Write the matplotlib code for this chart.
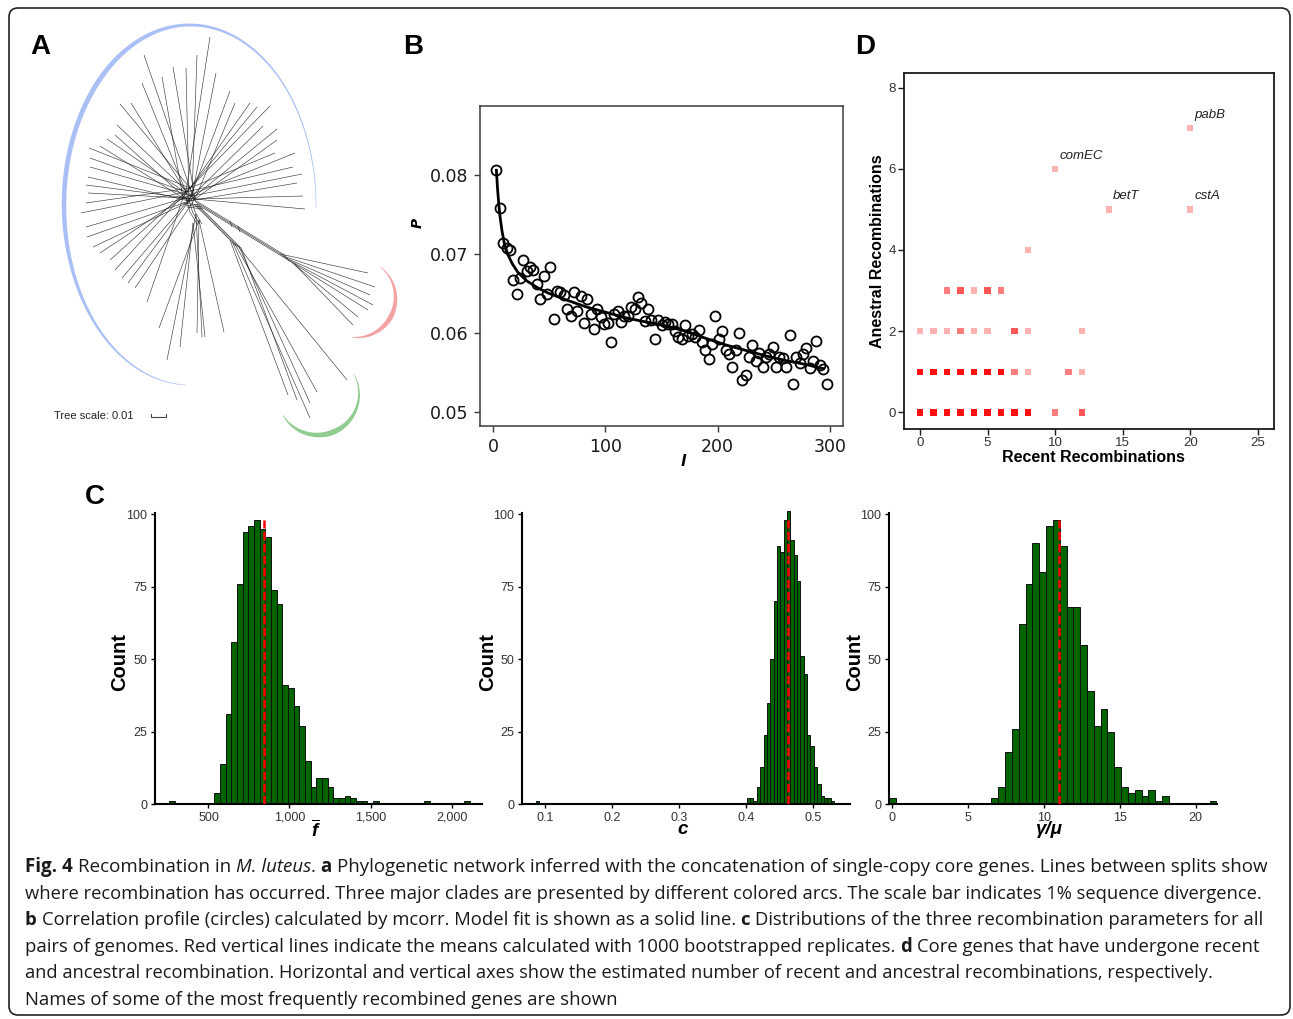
import matplotlib
matplotlib.use('Agg')
import matplotlib.pyplot as plt
import numpy as np
from matplotlib.patches import FancyBboxPatch, Polygon

plt.rcParams['font.family'] = ['Liberation Sans', 'DejaVu Sans']
plt.rcParams['mathtext.fontset'] = 'custom'
plt.rcParams['mathtext.it'] = 'Liberation Sans:italic:bold'
plt.rcParams['mathtext.rm'] = 'Liberation Sans:bold'

# ---------------- DATA ----------------
# Panel A: network tips (layout coordinates)
blue_tip_x = [210, 197, 186, 173, 162, 144, 142, 216, 230, 235, 250, 257, 270, 263, 277, 277, 295, 275, 293, 302, 297, 303, 305,
              120, 131, 117, 115, 107, 100, 89, 90, 90, 88, 86, 88, 86, 81, 86, 87, 93, 100, 110, 115, 122, 128, 135, 147, 159, 167,
              180, 197, 202, 205, 224]
blue_tip_y = [37, 55, 68, 67, 77, 55, 83, 73, 91, 103, 103, 107, 106, 126, 129, 140, 153, 153, 167, 174, 183, 196, 209,
              104, 103, 125, 135, 139, 146, 148, 158, 167, 177, 185, 193, 203, 213, 227, 237, 247, 253, 260, 270, 278, 283, 288, 302, 328, 360,
              347, 333, 337, 337, 332]
red_tip_x = [368, 375, 370, 373, 368, 358, 353]
red_tip_y = [273, 287, 295, 305, 310, 317, 325]
green_tip_x = [288, 310, 317, 347, 310, 297]
green_tip_y = [395, 418, 392, 380, 403, 400]
hub_x = [186, 192, 189, 195, 183, 190]
hub_y = [192, 196, 201, 199, 198, 188]

# Panel B: correlation profile
B_l = [3, 6, 9, 12, 15, 18, 21, 24, 27, 30, 33, 36, 39, 42, 45, 48, 51, 54, 57, 60,
       63, 66, 69, 72, 75, 78, 81, 84, 87, 90, 93, 96, 99, 102, 105, 108, 111, 114, 117, 120,
       123, 126, 129, 132, 135, 138, 141, 144, 147, 150, 153, 156, 159, 162, 165, 168, 171, 174, 177, 180,
       183, 186, 189, 192, 195, 198, 201, 204, 207, 210, 213, 216, 219, 222, 225, 228, 231, 234, 237, 240,
       243, 246, 249, 252, 255, 258, 261, 264, 267, 270, 273, 276, 279, 282, 285, 288, 291, 294, 297]
B_P = [0.0806, 0.0758, 0.0714, 0.0707, 0.0705, 0.0667, 0.0649, 0.0669, 0.0692, 0.0678,
       0.0683, 0.0680, 0.0662, 0.0643, 0.0672, 0.0649, 0.0684, 0.0618, 0.0653, 0.0652,
       0.0648, 0.0631, 0.0621, 0.0652, 0.0628, 0.0647, 0.0613, 0.0643, 0.0624, 0.0605,
       0.0631, 0.0620, 0.0611, 0.0613, 0.0589, 0.0624, 0.0628, 0.0614, 0.0622, 0.0622,
       0.0633, 0.0631, 0.0646, 0.0638, 0.0615, 0.0631, 0.0617, 0.0593, 0.0616, 0.0610,
       0.0614, 0.0612, 0.0612, 0.0602, 0.0595, 0.0592, 0.0610, 0.0596, 0.0599, 0.0595,
       0.0604, 0.0589, 0.0579, 0.0567, 0.0586, 0.0621, 0.0593, 0.0602, 0.0579, 0.0574,
       0.0557, 0.0578, 0.0600, 0.0541, 0.0547, 0.0569, 0.0585, 0.0565, 0.0575, 0.0557,
       0.0570, 0.0574, 0.0582, 0.0557, 0.0570, 0.0568, 0.0557, 0.0598, 0.0535, 0.0569,
       0.0562, 0.0573, 0.0581, 0.0556, 0.0565, 0.0590, 0.0559, 0.0555, 0.0535]
fit_l = [3, 4, 5, 6, 8, 10, 13, 17, 22, 30, 40, 50, 65, 83, 101, 119, 136, 154, 172, 190, 207, 225, 243, 261, 279, 294]
fit_P = [0.0806, 0.0783, 0.0765, 0.0750, 0.0729, 0.0714, 0.0700, 0.0688, 0.0677, 0.0666, 0.0657, 0.0650, 0.0642,
         0.0633, 0.0626, 0.0619, 0.0614, 0.0609, 0.0602, 0.0593, 0.0585, 0.0578, 0.0571, 0.0565, 0.0560, 0.0555]
B_xticks = [0, 100, 200, 300]
B_yticks = [0.05, 0.06, 0.07, 0.08]

# Panel C: histograms (bin index, count)
C1_start, C1_width = 536, 35
C1_idx = [-8] + list(range(0, 29)) + [37, 44]
C1_cnt = [1, 4, 14, 31, 56, 76, 94, 96, 98, 95, 92, 74, 69, 41, 40, 34, 27, 15, 6, 9, 9, 6, 2, 2, 3, 2, 1, 1, 0, 1, 1, 1]
C1_mean = 844
C1_ticks = [500, 1000, 1500, 2000]
C1_labels = ['500', '1,000', '1,500', '2,000']

C2_start, C2_width = 0.401, 0.005
C2_idx = [-63] + list(range(0, 26))
C2_cnt = [1, 2, 2, 1, 6, 13, 24, 35, 50, 70, 89, 87, 98, 101, 91, 86, 77, 51, 45, 24, 20, 13, 7, 3, 2, 2, 1]
C2_mean = 0.463
C2_ticks = [0.1, 0.2, 0.3, 0.4, 0.5]
C2_labels = ['0.1', '0.2', '0.3', '0.4', '0.5']

C3_start, C3_width = -0.22, 0.45
C3_idx = [0] + list(range(15, 41)) + [47]
C3_cnt = [2, 2, 6, 18, 26, 62, 76, 90, 80, 96, 98, 89, 68, 68, 55, 39, 27, 33, 25, 13, 6, 4, 5, 3, 5, 1, 3, 1]
C3_mean = 10.96
C3_ticks = [0, 5, 10, 15, 20]
C3_labels = ['0', '5', '10', '15', '20']
C_yticks = [0, 25, 50, 75, 100]

# Panel D: recent vs ancestral recombinations (x, y, number of genes)
D_x = [0, 1, 2, 3, 4, 5, 6, 7, 8, 10, 12,
       0, 1, 2, 3, 4, 5, 6, 7, 8, 11, 12,
       0, 1, 2, 3, 4, 5, 7, 8, 12,
       2, 3, 4, 5, 6,
       8, 14, 20, 10, 20]
D_y = [0] * 11 + [1] * 11 + [2] * 9 + [3] * 5 + [4, 5, 5, 6, 7]
D_n = [8, 8, 8, 8, 8, 8, 8, 8, 8, 2, 3,
       8, 8, 8, 8, 8, 8, 8, 2, 1, 2, 1,
       1, 1, 1, 2, 1, 1, 3, 1, 1,
       2, 3, 1, 3, 2,
       1, 1, 1, 1, 1]
D_gene_names = ['pabB', 'comEC', 'betT', 'cstA']
D_gene_x = [20, 10, 14, 20]
D_gene_y = [7, 6, 5, 5]

caption_lines = [
    [("Fig. 4", 'b'), (" Recombination in ", 'n'), ("M. luteus", 'i'), (". ", 'n'), ("a", 'b'),
     (" Phylogenetic network inferred with the concatenation of single-copy core genes. Lines between splits show", 'n')],
    [("where recombination has occurred. Three major clades are presented by different colored arcs. The scale bar indicates 1% sequence divergence.", 'n')],
    [("b", 'b'), (" Correlation profile (circles) calculated by mcorr. Model fit is shown as a solid line. ", 'n'), ("c", 'b'),
     (" Distributions of the three recombination parameters for all", 'n')],
    [("pairs of genomes. Red vertical lines indicate the means calculated with 1000 bootstrapped replicates. ", 'n'), ("d", 'b'),
     (" Core genes that have undergone recent", 'n')],
    [("and ancestral recombination. Horizontal and vertical axes show the estimated number of recent and ancestral recombinations, respectively.", 'n')],
    [("Names of some of the most frequently recombined genes are shown", 'n')],
]
caption_right = [1272, 1267, 1257, 1262, 1217, None]
caption_base = [872, 899, 925, 952, 978, 1005]

# ---------------- FIGURE ----------------
W, H = 1293, 1019
fig = plt.figure(figsize=(W / 100, H / 100), dpi=100)


def px_axes(l, t, r, b):
    a = fig.add_axes([l / W, 1 - b / H, (r - l) / W, (b - t) / H])
    a.patch.set_visible(False)
    return a


bg = fig.add_axes([0, 0, 1, 1])
bg.set_xlim(0, W)
bg.set_ylim(H, 0)
bg.axis('off')

bg.add_patch(FancyBboxPatch((9, 8), 1281, 1007, boxstyle='round,pad=0,rounding_size=9',
                            fill=False, ec='#222222', lw=1.2))

# ---- panel letters
for s, x, y in [('A', 40, 47), ('B', 413, 47), ('D', 865, 47), ('C', 95, 497)]:
    bg.text(x, y, s, fontsize=20, fontweight='bold', ha='center', va='center')

# ---- Panel A network
LC = dict(color='#1a1a1a', lw=0.45, alpha=0.85, solid_capstyle='butt')
lower_hubs = [(196, 214), (193, 223), (199, 220)]
for i, (tx, ty) in enumerate(zip(blue_tip_x, blue_tip_y)):
    if ty > 300 and 150 < tx < 230:
        hx, hy = lower_hubs[i % 3]
    else:
        hx, hy = hub_x[i % len(hub_x)], hub_y[i % len(hub_y)]
    bg.plot([hx, tx], [hy, ty], **LC)
# reticulate mesh at centre
for i in range(len(hub_x)):
    for j in range(i + 1, len(hub_x)):
        if (i + j) % 2 == 0:
            bg.plot([hub_x[i], hub_x[j]], [hub_y[i], hub_y[j]], **LC)
for k in range(3):
    bg.plot([186 + 2.5 * k, 190 + 2.5 * k, 197 + 2.5 * k], [198, 212, 224], **LC)
    bg.plot([183 + 2 * k, 199 + 2 * k], [203 + 2 * k, 205 + 2 * k], **LC)
# red clade
for k in range(3):
    bg.plot([193 + 2.0 * k, 286 + 2.0 * k], [199 + 2.6 * k, 256 + 2.6 * k], **LC)
for k in range(2):
    bg.plot([230 + 8 * k, 232 + 8 * k], [221 + 5 * k, 227 + 5 * k], **LC)
for j, (tx, ty) in enumerate(zip(red_tip_x, red_tip_y)):
    bg.plot([280 + 2.5 * j, tx], [254 + 1.8 * j, ty], **LC)
# green clade
for k in range(3):
    bg.plot([194 + 2.5 * k, 236 + 2.5 * k], [204 + 1.0 * k, 246 + 1.0 * k], **LC)
for j, (tx, ty) in enumerate(zip(green_tip_x, green_tip_y)):
    bg.plot([230 + 2.2 * j, tx], [240 + 1.5 * j, ty], **LC)


def tapered_arc(cx, cy, rx, ry, t0, t1, s_ctrl, w_ctrl, color):
    t = np.radians(np.linspace(t0, t1, 300))
    s = np.linspace(0, 1, 300)
    w = np.interp(s, s_ctrl, w_ctrl)
    xo = cx + (rx + w / 2) * np.cos(t)
    yo = cy - (ry + w / 2) * np.sin(t)
    xi = cx + (rx - w / 2) * np.cos(t)
    yi = cy - (ry - w / 2) * np.sin(t)
    pts = np.column_stack([np.concatenate([xo, xi[::-1]]), np.concatenate([yo, yi[::-1]])])
    bg.add_patch(Polygon(pts, closed=True, fc=color, ec='none'))


tapered_arc(190, 205, 126, 180, -1, 268, [0, 0.15, 0.35, 0.5, 0.68, 0.85, 1], [0.6, 1.3, 3.0, 5.0, 4.5, 2.2, 0.5], '#aabff5')
tapered_arc(356, 298, 39.5, 39.5, 52, -96, [0, 0.3, 0.55, 0.8, 1], [0.5, 3.0, 5.0, 3.0, 0.5], '#f4a3a3')
tapered_arc(318, 394, 41, 41, 28, -149, [0, 0.3, 0.55, 0.8, 1], [0.5, 3.0, 5.5, 3.5, 0.5], '#91cd91')

bg.text(54, 416, 'Tree scale: 0.01', fontsize=8, ha='left', va='center', color='#222222')
bg.plot([151, 151, 166, 166], [413.5, 417, 417, 413.5], color='#444444', lw=0.8)

# ---- Panel B
axB = px_axes(480, 106, 843, 426)
axB.plot(fit_l, fit_P, color='black', lw=2.0, zorder=2)
axB.plot(B_l, B_P, ls='none', marker='o', ms=7.2, mfc='none', mec='black', mew=1.3, zorder=3)
axB.set_xlim(-11.6, 311.6)
axB.set_ylim(0.04823, 0.08873)
axB.set_xticks(B_xticks)
axB.set_yticks(B_yticks)
axB.set_yticklabels(['%.2f' % v for v in B_yticks])
for sp in axB.spines.values():
    sp.set_color('#3a3a3a')
    sp.set_linewidth(1.1)
axB.tick_params(direction='out', length=4, width=1, labelsize=12.5, pad=4.5, colors='#3a3a3a', labelcolor='#1a1a1a')
for lab in axB.get_xticklabels() + axB.get_yticklabels():
    lab.set_family('DejaVu Sans')
bg.text(683, 461, 'l', fontsize=11, fontstyle='italic', fontweight='bold', ha='center', va='center', family='DejaVu Sans')
bg.text(418, 223, 'P', fontsize=10, fontstyle='italic', fontweight='bold', ha='center', va='center', rotation=90, family='DejaVu Sans')

# ---- Panel D
axD = px_axes(904, 73, 1274, 429)
cols = np.zeros((len(D_n), 4))
cols[:, 0] = 1.0
cols[:, 3] = 1 - 0.7 ** np.array(D_n)
axD.scatter(D_x, D_y, s=22, marker='s', c=cols, linewidths=0)
for name, gx, gy in zip(D_gene_names, D_gene_x, D_gene_y):
    axD.text(gx + 0.3, gy + 0.17, name, fontsize=9.5, fontstyle='italic', ha='left', va='bottom', color='#222222')
axD.set_xlim(-1.18, 26.2)
axD.set_ylim(-0.41, 8.36)
axD.set_xticks([0, 5, 10, 15, 20, 25])
axD.set_yticks([0, 2, 4, 6, 8])
for sp in axD.spines.values():
    sp.set_color('#1a1a1a')
    sp.set_linewidth(1.3)
axD.tick_params(direction='out', length=4, width=1, labelsize=9.5, pad=2, colors='#1a1a1a', labelcolor='#333333')
bg.text(1093, 458, 'Recent Recombinations', fontsize=11.5, fontweight='bold', ha='center', va='center')
bg.text(878, 251, 'Anestral Recombinations', fontsize=11.5, fontweight='bold', ha='center', va='center', rotation=90)

# ---- Panel C
C_specs = [
    (155, 482, C1_start, C1_width, C1_idx, C1_cnt, C1_mean, (170, 2188), C1_ticks, C1_labels, r'$\overline{f}$', 316, 120),
    (521.7, 850, C2_start, C2_width, C2_idx, C2_cnt, C2_mean, (0.0652, 0.555), C2_ticks, C2_labels, 'c', 683, 488),
    (889, 1217, C3_start, C3_width, C3_idx, C3_cnt, C3_mean, (-0.22, 21.4), C3_ticks, C3_labels, 'γ/μ', 1048, 855),
]
for (l, r, st, wd, idx, cnt, mean, xl, xt, xtl, xlab, xlx, cx) in C_specs:
    ax = px_axes(l, 510.8, r, 804.3)
    edges = [st + wd * i for i in idx]
    ax.bar(edges, cnt, width=wd, align='edge', color='#006400', edgecolor='#111111', linewidth=0.7, zorder=2)
    ax.plot([mean, mean], [0, 98], color='#ff0000', lw=1.8, ls=(0, (3.5, 1.3)), zorder=3)
    ax.set_xlim(*xl)
    ax.set_ylim(0, 101.2)
    ax.set_xticks(xt)
    ax.set_xticklabels(xtl)
    ax.set_yticks(C_yticks)
    for s in ['top', 'right']:
        ax.spines[s].set_visible(False)
    for s in ['left', 'bottom']:
        ax.spines[s].set_linewidth(1.5)
        ax.spines[s].set_color('black')
    ax.spines['left'].set_bounds(0, 100.3)
    ax.tick_params(direction='out', length=3, width=1, labelsize=9, pad=2.5, colors='black', labelcolor='#333333')
    bg.text(xlx, 830, xlab, fontsize=13.5, fontstyle='italic', fontweight='bold', ha='center', va='center')
    bg.text(cx, 662, 'Count', fontsize=14.5, fontweight='bold', ha='center', va='center', rotation=90)

# ---- caption: runs of one style drawn as single texts, chained by measured advance
R = fig.canvas.get_renderer()
CAP_FONT = ['Open Sans', 'DejaVu Sans']
STY = {'n': dict(fontweight='normal', fontstyle='normal'),
       'b': dict(fontweight='bold', fontstyle='normal'),
       'i': dict(fontweight='normal', fontstyle='italic')}


def raw_w(s, st, fs):
    t = bg.text(0, 0, s, fontsize=fs, family=CAP_FONT, **STY[st])
    w = t.get_window_extent(renderer=R).width
    t.remove()
    return w


def adv(s, st, fs):
    return raw_w('H' + s + 'H', st, fs) - raw_w('HH', st, fs)


def layout(segs, fs):
    x = 0.0
    offs = []
    for text, st in segs:
        core = text.strip(' ')
        if text.startswith(' '):
            x += adv(' ', 'n', fs)
        if core:
            offs.append((x, core, st))
            x += adv(core, st, fs)
        if text.endswith(' ') and core:
            x += adv(' ', 'n', fs)
    return offs, x


left = 25
FS0 = 12.0
line_fs = []
for k, segs in enumerate(caption_lines):
    if caption_right[k] is None:
        line_fs.append(None)
        continue
    fs = FS0
    for _ in range(3):
        _, wtot = layout(segs, fs)
        fs = fs * (caption_right[k] - left) / wtot
    line_fs.append(fs)
fs_mean = float(np.mean([f for f in line_fs if f is not None]))
for k, segs in enumerate(caption_lines):
    fs = line_fs[k] if line_fs[k] is not None else fs_mean
    offs, _ = layout(segs, fs)
    for x, run, st in offs:
        bg.text(left + x, caption_base[k], run, fontsize=fs, family=CAP_FONT,
                ha='left', va='baseline', color='#1a1a1a', **STY[st])

fig.savefig('out.png', dpi=100)
